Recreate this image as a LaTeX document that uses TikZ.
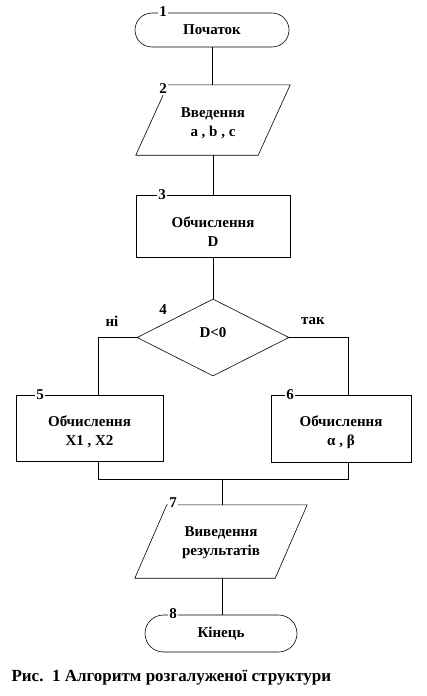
\documentclass[tikz,border=0pt]{standalone}
\usepackage{fontspec}
\setmainfont{Liberation Serif}
\usetikzlibrary{shapes.geometric,calc}
\begin{document}
\begin{tikzpicture}[x=1pt,y=-1pt,
  every node/.style={font=\fontsize{15}{19}\selectfont\bfseries, align=center},
  ln/.style={line width=0.6pt},
  term/.style={draw, line width=0.6pt, rectangle, rounded corners=17pt, inner sep=0pt},
  box/.style={draw, line width=0.6pt, rectangle, inner sep=0pt},
  para/.style={rectangle, inner sep=0pt},
  dia/.style={draw, line width=0.6pt, diamond, inner sep=0pt, minimum width=152pt, minimum height=77pt},
  num/.style={fill=white, inner sep=1.5pt, font=\fontsize{15}{17}\selectfont\bfseries},
  lab/.style={font=\fontsize{15}{17}\selectfont\bfseries}
]
\useasboundingbox (0,0) rectangle (426,696);
% nodes
\node[term, minimum width=154pt, minimum height=34pt] (n1) at (212,30) {\raisebox{-1.5pt}{Початок}};
\node[para, minimum width=154pt, minimum height=70pt] (n2) at (213,120) {};
\node[box, minimum width=154pt, minimum height=62pt] (n3) at (213,226) {};
\node[dia] (n4) at (213,337.5) {};
\node[box, minimum width=147pt, minimum height=66pt] (n5) at (89.5,428) {};
\node[box, minimum width=140pt, minimum height=67pt] (n6) at (341,428.5) {};
\node[para, minimum width=172pt, minimum height=73pt] (n7) at (221,541.5) {};
\node[term, minimum width=152pt, minimum height=37pt, rounded corners=18.5pt] (n8) at (221,633.5) {Кінець};
% texts
\node (t2) at ([yshift=-3pt]n2.center) {Введення\\a , b , c};
\node (t3) at ([yshift=-6pt]n3.center) {Обчислення\\D};
\node (t4) at ([yshift=5pt]n4.center) {D<0};
\node (t5) at ([yshift=-4pt]n5.center) {Обчислення\\X1 , X2};
\node (t6) at ([yshift=-4pt]n6.center) {Обчислення\\α , β};
\node (t7) at ([yshift=-1.5pt]n7.center) {Виведення\\результатів};
% parallelogram outlines
\draw[ln] ([xshift=32pt]n2.north west) -- (n2.north east) -- ([xshift=-32pt]n2.south east) -- (n2.south west) -- cycle;
\draw[ln] ([xshift=32pt]n7.north west) -- (n7.north east) -- ([xshift=-32pt]n7.south east) -- (n7.south west) -- cycle;
% helper coordinates
\coordinate (lx) at (98,0);
\coordinate (rx) at (348,0);
\coordinate (mx) at (222,0);
\coordinate (my) at (0,479);
% connectors
\draw[ln] (n1.south) -- (n1.south |- n2.north);
\draw[ln] (n2.south) -- (n2.south |- n3.north);
\draw[ln] (n3.south) -- (n4.north);
\draw[ln] (n4.west) -| (lx |- n5.north);
\draw[ln] (n4.east) -| (rx |- n6.north);
\draw[ln] (lx |- n5.south) -- (lx |- my) -- (rx |- my) -- (rx |- n6.south);
\draw[ln] (mx |- my) -- (mx |- n7.north);
\draw[ln] (mx |- n7.south) -- (mx |- n8.north);
% numbers
\node[num] (k1) at (163,12) {1};
\node[num] (k2) at (163,89) {2};
\node[num] (k3) at (162,195) {3};
\node[num] (k4) at (163,310) {4};
\node[num] (k5) at (40,395) {5};
\node[num] (k6) at (290,395) {6};
\node[num] (k7) at (173,503) {7};
\node[num] (k8) at (173,614) {8};
% branch labels
\node[lab] (no) at (112,321) {ні};
\node[lab] (yes) at (313,321) {так};
% caption
\node[anchor=west, font=\fontsize{17}{19}\selectfont\bfseries] (cap) at (8,678) {Рис.\ \ 1 Алгоритм розгалуженої структури};
\end{tikzpicture}
\end{document}
